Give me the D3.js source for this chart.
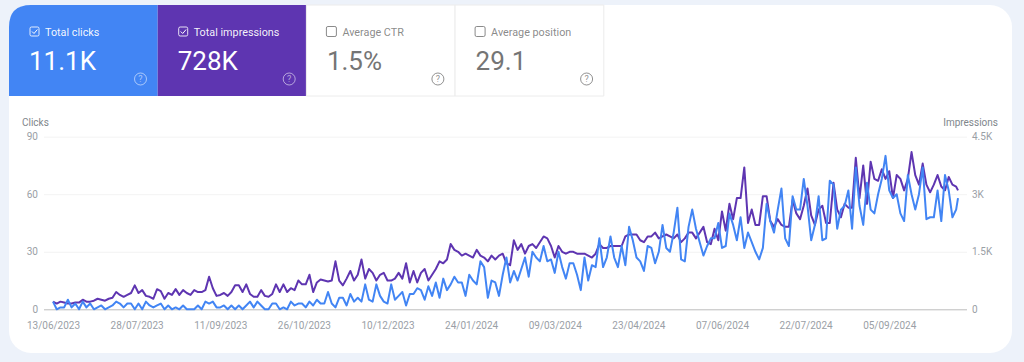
<!DOCTYPE html>
<html>
<head>
<meta charset="utf-8">
<script src="https://cdn.jsdelivr.net/npm/d3@7"></script>
<style>
  html, body { margin: 0; padding: 0; background: #edf2fa; overflow: hidden; }
  svg { display: block; font-family: Roboto, sans-serif; }
</style>
</head>
<body>
<svg id="chart" width="1024" height="362"></svg>
<script>
// one reading every two days
let startDate = "13/06/2023";
let lastDay = 487;

let clicks = [
  4,0,1,1,5,1,3,0,4,1,
  3,0,1,2,0,1,2,4,3,1,
  3,3,0,3,0,4,2,1,2,3,
  0,2,0,1,0,2,0,0,0,2,
  0,4,3,4,1,1,2,0,2,0,
  2,0,2,4,1,4,2,0,0,3,
  3,0,1,0,4,2,3,3,1,4,
  2,5,3,3,9,3,1,6,6,2,
  8,4,6,4,13,5,4,13,7,4,
  3,13,5,7,9,2,8,8,11,10,
  5,12,7,14,6,16,10,13,17,14,
  14,7,18,15,13,25,22,6,15,14,
  7,18,27,14,20,15,21,27,17,30,
  27,25,33,25,26,19,30,22,16,24,
  24,18,10,27,15,23,22,37,22,27,
  38,27,22,33,23,43,36,27,25,20,
  33,32,24,30,44,32,30,40,53,26,
  25,43,52,42,35,28,33,37,37,45,
  32,33,50,44,36,48,32,40,35,30,
  26,32,55,46,40,52,63,37,33,59,
  52,52,68,54,36,44,59,36,37,67,
  65,42,52,54,62,42,74,54,44,66,
  52,50,60,68,80,62,58,60,50,46,
  70,60,52,60,74,47,48,48,62,46,
  70,62,48,52,58
];

let impressions = [
  200,150,200,175,150,150,175,175,250,200,
  200,225,275,250,225,275,300,450,375,325,
  375,425,625,425,500,350,325,275,525,475,
  275,425,375,525,375,500,425,375,500,450,
  450,500,850,550,350,375,425,350,450,625,
  625,450,650,400,325,325,500,350,325,400,
  650,450,650,450,550,500,750,650,650,900,
  450,700,775,750,725,750,1250,750,625,800,
  1000,750,900,1300,800,1050,950,750,900,950,
  750,750,800,950,800,1200,700,1000,700,950,
  1050,750,900,1050,1250,1200,1300,1700,1550,1500,
  1400,1450,1400,1350,1550,1400,1350,1250,1400,1300,
  1400,1450,1200,1150,1800,1550,1700,1450,1650,1700,
  1600,1750,1900,1850,1650,1350,1650,1500,1450,1500,
  1500,1450,1450,1450,1400,1350,1450,1700,1600,1600,
  1650,1650,1650,1650,1900,1950,1950,1950,1800,1750,
  1900,1900,2000,1850,1900,1950,1900,1850,1950,1750,
  1850,2000,2000,1850,2000,2150,1750,1700,2100,1800,
  2550,2050,2750,2350,2900,2900,3700,2250,2600,2200,
  2200,2950,2950,2300,2150,2350,2200,2150,2150,2850,
  2500,2350,2700,3150,2450,2200,2600,2700,2250,2250,
  3300,2600,2400,2750,2650,2650,3950,2900,3750,2750,
  3850,3400,3350,3650,3400,3600,2900,3500,3400,3100,
  3400,4100,3500,3250,3800,3250,3050,3250,3500,3200,
  3100,3450,3250,3200,3100
];

let dateTicks = ["13/06/2023","28/07/2023","11/09/2023","26/10/2023","10/12/2023","24/01/2024","09/03/2024","23/04/2024","07/06/2024","22/07/2024","05/09/2024"];
let clickTicks = [0,30,60,90];
let impressionTicks = [0,1500,3000,4500];
let impressionLabels = ["0","1.5K","3K","4.5K"];

let metricNames = ["Total clicks","Total impressions","Average CTR","Average position"];
let metricValues = ["11.1K","728K","1.5%","29.1"];
let metricOn = [true,true,false,false];
let metricFills = ["#4285f4","#5e35b1","#ffffff","#ffffff"];

let parseDate = d3.utcParse("%d/%m/%Y");
let formatDate = d3.utcFormat("%d/%m/%Y");
let firstDay = parseDate(startDate);
let days = clicks.map((d, i) => d3.utcDay.offset(firstDay, Math.min(i * 2, lastDay)));

let svg = d3.select("#chart");

// card
svg.append("rect")
  .attr("x", 9).attr("y", 5)
  .attr("width", 1003).attr("height", 348)
  .attr("rx", 22)
  .attr("fill", "#ffffff");

// metric tiles
let tileWidth = 148.7;
let tileTop = 5;
let tileHeight = 91;
let tiles = svg.selectAll(".tile")
  .data(metricNames)
  .enter()
  .append("g")
  .attr("class", "tile")
  .attr("transform", (d, i) => `translate(${9 + i * tileWidth}, ${tileTop})`);

tiles.append("path")
  .attr("d", (d, i) => i == 0
    ? `M0,${tileHeight} V22 Q0,0 22,0 H${tileWidth} V${tileHeight} Z`
    : `M0,0 H${tileWidth} V${tileHeight} H0 Z`)
  .attr("fill", (d, i) => metricFills[i])
  .attr("stroke", (d, i) => metricOn[i] ? "none" : "#ececec")
  .attr("stroke-width", 1);

tiles.each(function (d, i) {
  let tile = d3.select(this);
  let main = metricOn[i] ? "#ffffff" : "#757575";

  tile.append("rect")
    .attr("x", metricOn[i] ? 21 : 20).attr("y", metricOn[i] ? 22 : 21.5)
    .attr("width", metricOn[i] ? 9 : 10).attr("height", metricOn[i] ? 9 : 10)
    .attr("rx", 1.5)
    .attr("fill", "none")
    .attr("stroke", main)
    .attr("stroke-opacity", 0.85)
    .attr("stroke-width", 1);
  if (metricOn[i]) {
    tile.append("path")
      .attr("d", "M23,26.5 l2,2 l3.4,-4")
      .attr("fill", "none")
      .attr("stroke", main)
      .attr("stroke-width", 1);
  }
  tile.append("text")
    .attr("x", 36).attr("y", 30.5)
    .attr("font-size", 10.8)
    .attr("fill", main)
    .attr("fill-opacity", metricOn[i] ? 0.95 : 0.85)
    .text(d);
  tile.append("text")
    .attr("x", metricOn[i] ? 20 : 20.5).attr("y", 65)
    .attr("font-size", 26)
    .attr("fill", main)
    .text(metricValues[i]);
  tile.append("circle")
    .attr("cx", 131.5).attr("cy", 74)
    .attr("r", 6)
    .attr("fill", "none")
    .attr("stroke", main)
    .attr("stroke-opacity", metricOn[i] ? 0.55 : 0.8)
    .attr("stroke-width", 1);
  tile.append("text")
    .attr("x", 131.5).attr("y", 77.3)
    .attr("text-anchor", "middle")
    .attr("font-size", 9)
    .attr("fill", main)
    .attr("fill-opacity", metricOn[i] ? 0.55 : 0.8)
    .text("?");
});

// scales
let xScale = d3.scaleUtc()
  .domain([firstDay, d3.utcDay.offset(firstDay, lastDay)])
  .range([53, 958]);
let yClicks = d3.scaleLinear().domain([0, 90]).range([309.3, 136.7]);
let yImpressions = d3.scaleLinear().domain([0, 4500]).range([309.3, 136.7]);

let labelColor = "#9aa0a6";

// left axis carries the gridlines
let leftAxis = svg.append("g")
  .attr("transform", "translate(44, 0)")
  .call(d3.axisLeft(yClicks).tickValues(clickTicks).tickSize(-923).tickPadding(6));
leftAxis.select(".domain").remove();
leftAxis.selectAll("line")
  .attr("stroke", d => d == 0 ? "#bdbdbd" : "#f3f3f3")
  .attr("stroke-width", 1);
leftAxis.selectAll("text")
  .attr("font-family", "Roboto, sans-serif")
  .attr("font-size", 10)
  .attr("fill", labelColor);

let rightAxis = svg.append("g")
  .attr("transform", "translate(967, 0)")
  .call(d3.axisRight(yImpressions)
    .tickValues(impressionTicks)
    .tickFormat((d, i) => impressionLabels[i])
    .tickSize(0)
    .tickPadding(5));
rightAxis.select(".domain").remove();
rightAxis.selectAll("text")
  .attr("font-family", "Roboto, sans-serif")
  .attr("font-size", 10)
  .attr("fill", labelColor);

let bottomAxis = svg.append("g")
  .attr("transform", "translate(0, 309.3)")
  .call(d3.axisBottom(xScale)
    .tickValues(dateTicks.map(parseDate))
    .tickFormat(formatDate)
    .tickSize(0)
    .tickPadding(13));
bottomAxis.select(".domain").remove();
bottomAxis.selectAll("text")
  .attr("font-family", "Roboto, sans-serif")
  .attr("font-size", 10)
  .attr("fill", labelColor);

// axis titles
svg.append("text")
  .attr("x", 22).attr("y", 126)
  .attr("font-size", 10)
  .attr("fill", "#80868b")
  .text("Clicks");
svg.append("text")
  .attr("x", 998).attr("y", 126)
  .attr("text-anchor", "end")
  .attr("font-size", 10)
  .attr("fill", "#80868b")
  .text("Impressions");

// lines
let impressionLine = d3.line()
  .x((d, i) => xScale(days[i]))
  .y(d => yImpressions(d));
let clickLine = d3.line()
  .x((d, i) => xScale(days[i]))
  .y(d => yClicks(d));

svg.append("path")
  .datum(impressions)
  .attr("d", impressionLine)
  .attr("fill", "none")
  .attr("stroke", "#5e35b1")
  .attr("stroke-width", 2)
  .attr("stroke-linejoin", "round");
svg.append("path")
  .datum(clicks)
  .attr("d", clickLine)
  .attr("fill", "none")
  .attr("stroke", "#4285f4")
  .attr("stroke-width", 2)
  .attr("stroke-linejoin", "round");
</script>
</body>
</html>
